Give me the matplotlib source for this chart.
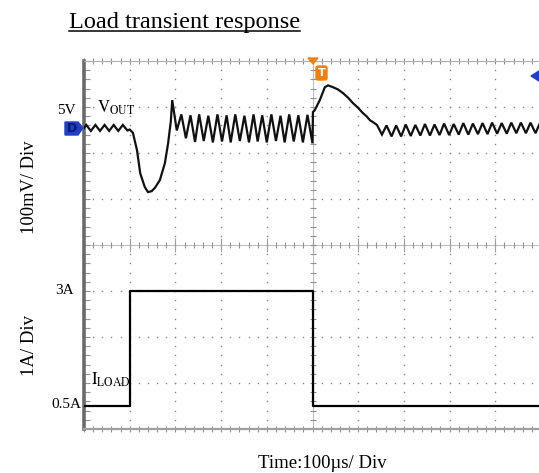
import matplotlib
matplotlib.use("Agg")
import numpy as np
import matplotlib.pyplot as plt
from matplotlib.lines import Line2D
from matplotlib.patches import Polygon, FancyBboxPatch

plt.rcParams['font.family'] = ['Liberation Serif', 'DejaVu Serif']
plt.rcParams['mathtext.fontset'] = 'stix'

# scope settings: 100us/div, 100mV/div, 1A/div
title = "Load transient response"
vout_offset_div = 6.54   # 5V reference level, in divisions from bottom

# Vout deviation from 5V (mV) against time (us)
vout_t = [0, 5, 15, 25, 35, 45, 55, 65, 75, 85, 95, 100,
          107, 116, 123, 133, 140, 148, 155, 166, 177, 184, 190, 193,
          203, 213, 223, 233, 243, 252, 262, 272, 282, 292, 302, 312,
          321, 331, 341, 351, 361, 371, 380, 390, 400, 410, 420, 430,
          439, 449, 459, 469, 479, 489, 500,
          501, 505, 516, 527, 534, 545, 556, 567, 578, 589, 600, 610,
          618, 626, 634, 641,
          652, 662, 673, 683, 694, 704, 715, 725, 736, 746, 757, 767,
          778, 788, 799, 809, 820, 830, 841, 851, 862, 872, 883, 893,
          904, 914, 925, 935, 946, 956, 967, 977, 988, 998]
vout_mv = [0, 7, -6, 7, -6, 7, -6, 7, -6, 7, -5, -3,
           -10, -48, -98, -128, -139, -137, -130, -113, -76, -33, 15, 61,
           -5, 30, -22, 28, -30, 30, -28, 27, -31, 30, -29, 28,
           -31, 30, -28, 27, -31, 30, -29, 28, -31, 30, -28, 27,
           -31, 30, -29, 28, -31, 29, -33,
           35, 39, 61, 89, 93, 89, 84, 76, 66, 54, 44, 33,
           26, 17, 12, 7,
           -14, 6, -18, 6, -18, 8, -17, 7, -16, 9, -16, 8,
           -15, 10, -15, 9, -14, 11, -14, 10, -13, 11, -13, 12,
           -12, 11, -12, 12, -11, 12, -11, 12, -11, 12]

# load current step (A)
iload_t = [0, 100, 100, 500, 500, 1000]
iload_a = [0.5, 0.5, 3.0, 3.0, 0.5, 0.5]

W, H = 539, 473
fig = plt.figure(figsize=(W / 100, H / 100), dpi=100)
ax = fig.add_axes([84 / W, 44 / H, 457 / W, 368 / H])
ax.set_xlim(0, 1000)
ax.set_ylim(0, 8)

# dotted graticule
minor_y = np.arange(0.2, 8.0, 0.2)
minor_x = np.arange(20, 1000, 20)
for gx in [100, 200, 300, 400, 600, 700, 800, 900]:
    ax.plot(np.full(len(minor_y), gx), minor_y, ls='none', marker='s',
            ms=1.0, mew=0, color='#8a8a8a', zorder=1)
for gy in [1, 2, 3, 5, 6, 7]:
    ax.plot(minor_x, np.full(len(minor_x), gy), ls='none', marker='s',
            ms=1.0, mew=0, color='#8a8a8a', zorder=1)

# centre axes with tick marks
ax.axhline(4, color='#c0c0c0', lw=0.8, zorder=1)
ax.axvline(500, color='#c0c0c0', lw=0.8, zorder=1)
ax.plot(minor_x, np.full(len(minor_x), 4), ls='none', marker='|', ms=5,
        mew=0.8, color='#909090', zorder=1)
ax.plot(np.arange(100, 1000, 100), np.full(9, 4), ls='none', marker='|',
        ms=10, mew=0.8, color='#a0a0a0', zorder=1)
ax.plot(np.full(len(minor_y), 500), minor_y, ls='none', marker='_', ms=5,
        mew=0.8, color='#909090', zorder=1)

# border
ax.spines['right'].set_visible(False)
ax.spines['left'].set_color('#6a6a6a')
ax.spines['left'].set_linewidth(2.6)
ax.spines['bottom'].set_color('#a0a0a0')
ax.spines['bottom'].set_linewidth(1.6)
ax.spines['top'].set_color('#b0b0b0')
ax.spines['top'].set_linewidth(0.8)
ax.set_xticks(np.arange(0, 1001, 100))
ax.set_xticks(minor_x, minor=True)
ax.set_yticks(np.arange(0, 9, 1))
ax.set_yticks(minor_y, minor=True)
ax.tick_params(which='both', labelleft=False, labelbottom=False,
               top=True, right=False, color='#909090', width=0.8)
ax.tick_params(axis='x', which='both', direction='inout', length=5)
ax.tick_params(axis='y', which='both', direction='in', length=4)

# traces
ax.plot(vout_t, vout_offset_div + np.array(vout_mv) / 100.0, color='#111111',
        lw=1.6, zorder=3, solid_joinstyle='miter')
ax.plot(iload_t, iload_a, color='black', lw=1.6, zorder=3)


def fx(px):
    return px / W


def fy(py):
    return 1 - py / H


# text
t = fig.text(fx(69), fy(28), title, fontsize=17.5, va='baseline', ha='left')
fig.text(fx(30), fy(187), "100mV/ Div", rotation=90, fontsize=13.3,
         ha='center', va='center')
fig.text(fx(29), fy(346), "1A/ Div", rotation=90, fontsize=13.5,
         ha='center', va='center')
fig.text(fx(322), fy(463), "Time:100\u00b5s/ Div", fontsize=13.5,
         ha='center', va='center')
fig.text(fx(66), fy(110), "5V", fontsize=11, ha='center', va='center')
fig.text(fx(65), fy(291), "3A", fontsize=11, ha='center', va='center')
fig.text(fx(66), fy(404), "0.5A", fontsize=11, ha='center', va='center')
fig.text(fx(97), fy(108), r'$\mathrm{V}_{\mathrm{OUT}}$', fontsize=12,
         ha='left', va='center')
fig.text(fx(91), fy(380), r'$\mathrm{I}_{\mathrm{LOAD}}$', fontsize=12,
         ha='left', va='center')

# underline for the title
fig.canvas.draw()
bb = t.get_window_extent()
fig.add_artist(Line2D([fx(bb.x0), fx(bb.x1)], [fy(31), fy(31)],
                      color='black', lw=1.1))

# channel / trigger markers
fig.add_artist(Polygon([[fx(65), fy(122)], [fx(78), fy(122)], [fx(83), fy(128)],
                        [fx(78), fy(135)], [fx(65), fy(135)]],
                       closed=True, color='#1f3fc4'))
fig.text(fx(72), fy(128.5), "D", fontsize=9, fontweight='bold',
         color='#0a1a70', ha='center', va='center', family='DejaVu Sans')
fig.add_artist(Polygon([[fx(308), fy(58)], [fx(318), fy(58)], [fx(313), fy(64)]],
                       closed=True, color='#f08010'))
fig.add_artist(FancyBboxPatch((fx(316), fy(80)), fx(11), 14 / H,
                              boxstyle='round,pad=0,rounding_size=0.004',
                              color='#f08010', transform=fig.transFigure))
fig.text(fx(321.5), fy(73), "T", fontsize=8, fontweight='bold', color='white',
         ha='center', va='center', family='DejaVu Sans')
fig.add_artist(Polygon([[fx(531), fy(76)], [fx(539), fy(71)], [fx(539), fy(81)]],
                       closed=True, color='#1f3fc4'))

fig.savefig("out.png", dpi=100)
